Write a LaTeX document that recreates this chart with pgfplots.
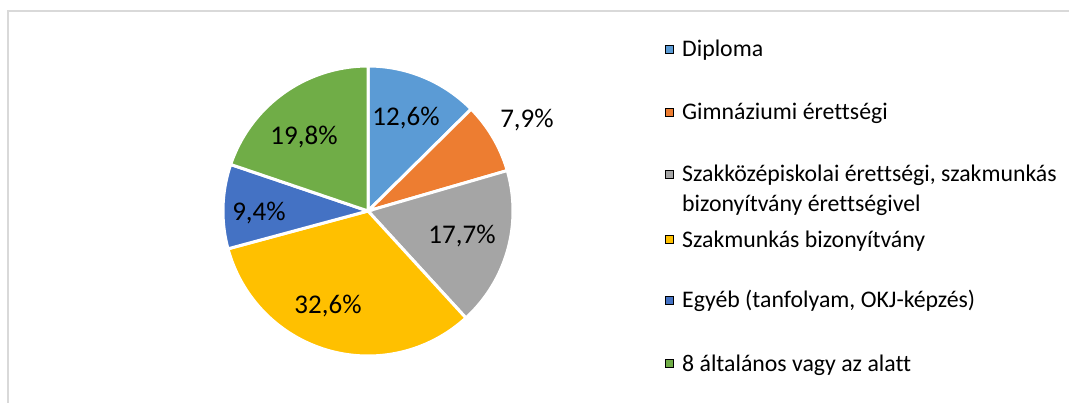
\documentclass[border=0pt]{standalone}
\usepackage{pgfplots}
\pgfplotsset{compat=1.18}
\usepackage{fontspec}
\setmainfont{Carlito}[Ligatures={NoCommon}]
\definecolor{c1}{HTML}{5B9BD5}
\definecolor{c2}{HTML}{ED7D31}
\definecolor{c3}{HTML}{A5A5A5}
\definecolor{c4}{HTML}{FFC000}
\definecolor{c5}{HTML}{4472C4}
\definecolor{c6}{HTML}{70AD47}
\definecolor{frame}{HTML}{D9D9D9}
\newcommand{\lblfont}{\fontsize{27bp}{32bp}\selectfont}
\newcommand{\legfont}{\fontsize{23.8bp}{28bp}\selectfont}
\begin{document}
\begin{tikzpicture}
\useasboundingbox (0,0) rectangle (1069bp,403bp);
\begin{axis}[at={(0,0)}, anchor=south west, scale only axis,
  width=1069bp, height=403bp, hide axis,
  xmin=0, xmax=1069, ymin=0, ymax=403, y dir=reverse, clip=false]
% frame
\draw[frame, line width=1.5bp] (8,403) -- (8,11) -- (1069,11);
% pie slices: domain = cumulative percentage (start:end)
\addplot[fill=c1, draw=white, line width=3bp, no marks, domain=0:12.6, samples=60] ({368+145*sin(3.6*x)}, {211-145*cos(3.6*x)}) -- (368,211) -- cycle;
\addplot[fill=c2, draw=white, line width=3bp, no marks, domain=12.6:20.5, samples=60] ({368+145*sin(3.6*x)}, {211-145*cos(3.6*x)}) -- (368,211) -- cycle;
\addplot[fill=c3, draw=white, line width=3bp, no marks, domain=20.5:38.2, samples=60] ({368+145*sin(3.6*x)}, {211-145*cos(3.6*x)}) -- (368,211) -- cycle;
\addplot[fill=c4, draw=white, line width=3bp, no marks, domain=38.2:70.8, samples=90] ({368+145*sin(3.6*x)}, {211-145*cos(3.6*x)}) -- (368,211) -- cycle;
\addplot[fill=c5, draw=white, line width=3bp, no marks, domain=70.8:80.2, samples=60] ({368+145*sin(3.6*x)}, {211-145*cos(3.6*x)}) -- (368,211) -- cycle;
\addplot[fill=c6, draw=white, line width=3bp, no marks, domain=80.2:100, samples=60] ({368+145*sin(3.6*x)}, {211-145*cos(3.6*x)}) -- (368,211) -- cycle;
% data labels
\node[anchor=base, inner sep=0pt, font=\lblfont] at (406,125) {12,6\%};
\node[anchor=base, inner sep=0pt, font=\lblfont] at (527,127) {7,9\%};
\node[anchor=base, inner sep=0pt, font=\lblfont] at (462,243) {17,7\%};
\node[anchor=base, inner sep=0pt, font=\lblfont] at (328,313) {32,6\%};
\node[anchor=base, inner sep=0pt, font=\lblfont] at (259,220) {9,4\%};
\node[anchor=base, inner sep=0pt, font=\lblfont] at (304,144) {19,8\%};
% legend
\addplot[only marks, mark=square*, mark size=3.9bp, mark options={fill=c1, draw=none}] coordinates {(669.5,49)};
\addplot[only marks, mark=square*, mark size=3.9bp, mark options={fill=c2, draw=none}] coordinates {(669.5,112)};
\addplot[only marks, mark=square*, mark size=3.9bp, mark options={fill=c3, draw=none}] coordinates {(669.5,174.5)};
\addplot[only marks, mark=square*, mark size=3.9bp, mark options={fill=c4, draw=none}] coordinates {(669.5,239.5)};
\addplot[only marks, mark=square*, mark size=3.9bp, mark options={fill=c5, draw=none}] coordinates {(669.5,300)};
\addplot[only marks, mark=square*, mark size=3.9bp, mark options={fill=c6, draw=none}] coordinates {(669.5,363.5)};
\node[anchor=base west, inner sep=0pt, font=\legfont] at (682,56.5) {Diploma};
\node[anchor=base west, inner sep=0pt, font=\legfont] at (682,119.5) {Gimnáziumi érettségi};
\node[anchor=base west, inner sep=0pt, font=\legfont] at (682,181) {Szakközépiskolai érettségi, szakmunkás};
\node[anchor=base west, inner sep=0pt, font=\legfont] at (682,211) {bizonyítvány érettségivel};
\node[anchor=base west, inner sep=0pt, font=\legfont] at (682,247) {Szakmunkás bizonyítvány};
\node[anchor=base west, inner sep=0pt, font=\legfont] at (682,307.5) {Egyéb (tanfolyam, OKJ-képzés)};
\node[anchor=base west, inner sep=0pt, font=\legfont] at (682,371) {8 általános vagy az alatt};
\end{axis}
\end{tikzpicture}
\end{document}
